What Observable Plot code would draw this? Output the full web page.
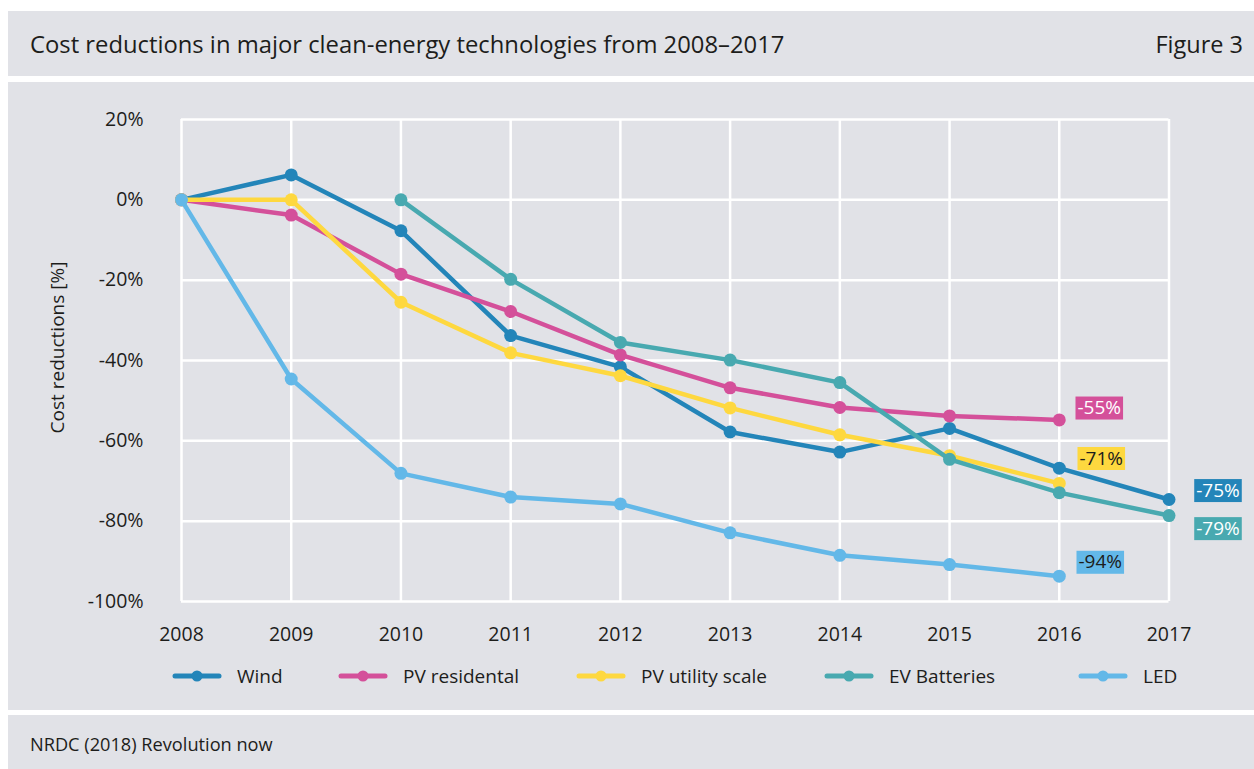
<!DOCTYPE html>
<html>
<head>
<meta charset="utf-8">
<script src="https://cdn.jsdelivr.net/npm/d3@7"></script>
<script src="https://cdn.jsdelivr.net/npm/@observablehq/plot@0.6"></script>
<style>
  html, body { margin: 0; padding: 0; background: #ffffff; }
  body { width: 1254px; height: 769px; position: relative; overflow: hidden;
         font-family: "Open Sans", sans-serif; color: #1d1d1b; }
  .band { position: absolute; left: 8px; right: 0; background: #e1e2e7; }
  .txt { position: absolute; white-space: nowrap; line-height: 1; }
  #chart { position: absolute; left: 0; top: 82px; }
  .legend-item { position: absolute; top: 666px; height: 20px; display: flex; align-items: center; font-size: 19px; white-space: nowrap; }
  .legend-item svg { margin-right: 15px; }
</style>
</head>
<body>
<div class="band" style="top:11px;height:65px"></div>
<div class="band" style="top:82px;height:628px"></div>
<div class="band" style="top:715px;height:54px"></div>
<div class="txt" id="title" style="left:30px;top:32.5px;font-size:23.8px"></div>
<div class="txt" id="figno" style="right:11px;top:32.5px;font-size:23.5px"></div>
<div class="txt" id="source" style="left:30px;top:735px;font-size:18.2px"></div>
<div id="chart"></div>
<div id="legend"></div>
<script>
// ---- data ----
const titleText = "Cost reductions in major clean-energy technologies from 2008–2017";
const figureText = "Figure 3";
const sourceText = "NRDC (2018) Revolution now";
const yAxisLabel = "Cost reductions [%]";

const years = [2008, 2009, 2010, 2011, 2012, 2013, 2014, 2015, 2016, 2017];
const wind          = [0, 6.2, -7.7, -33.8, -41.6, -57.8, -62.8, -56.9, -66.8, -74.6];
const pvResidental  = [0, -3.8, -18.5, -27.8, -38.6, -46.8, -51.7, -53.8, -54.8, null];
const pvUtility     = [0, 0, -25.5, -38.1, -43.8, -51.8, -58.5, -63.7, -70.6, null];
const evBatteries   = [null, null, 0, -19.8, -35.5, -39.9, -45.5, -64.6, -72.9, -78.6];
const led           = [0, -44.6, -68.1, -74, -75.7, -82.9, -88.5, -90.8, -93.7, null];

const seriesNames  = ["Wind", "PV residental", "PV utility scale", "EV Batteries", "LED"];
const seriesValues = [wind, pvResidental, pvUtility, evBatteries, led];
const seriesColors = ["#2385b9", "#d4509a", "#fed83f", "#48a9b0", "#63b8e8"];
const endLabels    = ["-75%", "-55%", "-71%", "-79%", "-94%"];
const endLabelInk  = ["#ffffff", "#ffffff", "#1d1d1b", "#ffffff", "#1d1d1b"];

const yTicks = [20, 0, -20, -40, -60, -80, -100];

// ---- layout / style (not data) ----
const labelOffsets = [[49, -9], [40, -12], [42, -25], [49, 13], [41, -14]];
const legendLeft = [172, 338, 576, 824, 1078];

// ---- build tables ----
const rows = [];
seriesNames.forEach((name, s) => {
  years.forEach((yr, i) => {
    const v = seriesValues[s][i];
    if (v !== null) rows.push({series: name, year: yr, value: v});
  });
});
const lastRows = seriesNames.map((name, s) => {
  const r = rows.filter(d => d.series === name);
  return {...r[r.length - 1], label: endLabels[s]};
});

document.getElementById("title").textContent = titleText;
document.getElementById("figno").textContent = figureText;
document.getElementById("source").textContent = sourceText;

const marks = [
  Plot.gridX(years, {stroke: "#ffffff", strokeOpacity: 1, strokeWidth: 2.5}),
  Plot.gridY(yTicks, {stroke: "#ffffff", strokeOpacity: 1, strokeWidth: 2.5}),
  Plot.axisX(years, {tickSize: 0, tickPadding: 26, tickFormat: d => String(d), fontSize: 19.5, label: null}),
  Plot.axisY(yTicks, {tickSize: 0, tickPadding: 38, tickFormat: d => d + "%", fontSize: 19.5, label: null}),
  Plot.text([yAxisLabel], {frameAnchor: "left", textAnchor: "middle", text: d => d, rotate: -90, dx: -124, dy: -13, fontSize: 19})
];
seriesNames.forEach((name, s) => {
  const data = rows.filter(d => d.series === name);
  marks.push(Plot.line(data, {x: "year", y: "value", stroke: seriesColors[s], strokeWidth: 4.5}));
  marks.push(Plot.dot(data, {x: "year", y: "value", fill: seriesColors[s], r: 6.5}));
});
seriesNames.forEach((name, s) => {
  marks.push(Plot.text([lastRows[s]], {
    x: "year", y: "value", text: "label",
    dx: labelOffsets[s][0], dy: labelOffsets[s][1],
    fill: endLabelInk[s], fontSize: 19, className: "endlbl-" + s
  }));
});

const chart = Plot.plot({
  width: 1254,
  height: 580,
  marginLeft: 181,
  marginRight: 85.5,
  marginTop: 37,
  marginBottom: 61,
  style: {background: "transparent", fontFamily: "Open Sans", color: "#1d1d1b", fontSize: "19px", overflow: "visible"},
  x: {domain: [2008, 2017]},
  y: {domain: [-100, 20]},
  marks
});
document.getElementById("chart").appendChild(chart);

// label background boxes
seriesNames.forEach((name, s) => {
  const g = chart.querySelector(".endlbl-" + s);
  if (!g) return;
  const t = g.querySelector("text");
  const bb = t.getBBox();
  const rect = document.createElementNS("http://www.w3.org/2000/svg", "rect");
  const h = 23;
  rect.setAttribute("x", bb.x - 2);
  rect.setAttribute("width", bb.width + 4);
  rect.setAttribute("y", bb.y + bb.height / 2 - h / 2 + 1);
  rect.setAttribute("height", h);
  rect.setAttribute("fill", seriesColors[s]);
  if (t.getAttribute("transform")) rect.setAttribute("transform", t.getAttribute("transform"));
  g.insertBefore(rect, t);
});

// legend
const legend = document.getElementById("legend");
seriesNames.forEach((name, s) => {
  const item = document.createElement("div");
  item.className = "legend-item";
  item.style.left = legendLeft[s] + "px";
  item.innerHTML = `<svg width="50" height="14"><line x1="3" x2="47" y1="7" y2="7" stroke="${seriesColors[s]}" stroke-width="5" stroke-linecap="round"/><circle cx="25" cy="7" r="5.5" fill="${seriesColors[s]}"/></svg><span></span>`;
  item.querySelector("span").textContent = name;
  legend.appendChild(item);
});
</script>
</body>
</html>
